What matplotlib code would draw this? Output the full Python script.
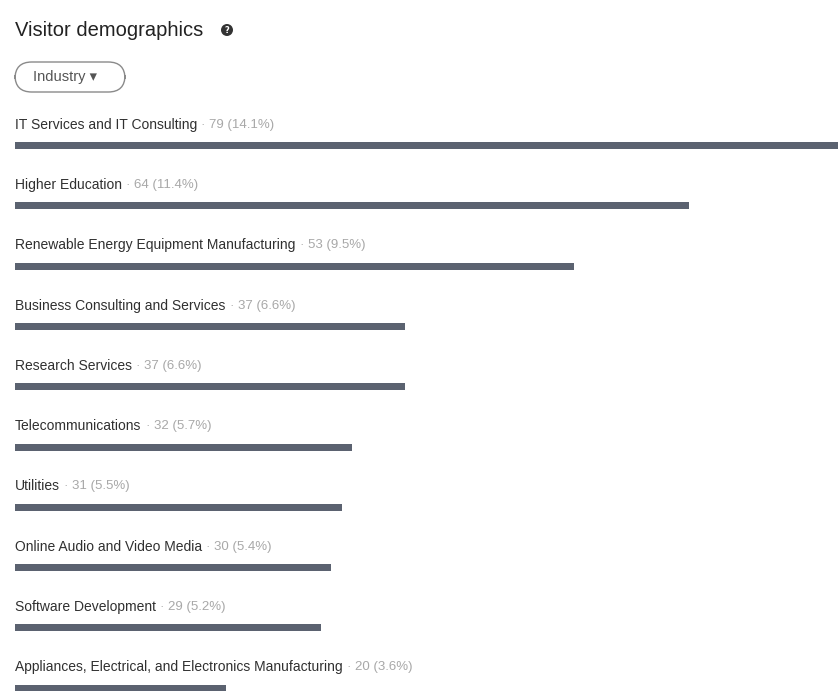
import matplotlib
matplotlib.use("Agg")
import matplotlib.pyplot as plt
from matplotlib.transforms import offset_copy
from matplotlib.patches import Ellipse, FancyBboxPatch

categories = [
    "IT Services and IT Consulting",
    "Higher Education",
    "Renewable Energy Equipment Manufacturing",
    "Business Consulting and Services",
    "Research Services",
    "Telecommunications",
    "Utilities",
    "Online Audio and Video Media",
    "Software Development",
    "Appliances, Electrical, and Electronics Manufacturing",
]
counts = [79, 64, 53, 37, 37, 32, 31, 30, 29, 20]
percents = ["14.1%", "11.4%", "9.5%", "6.6%", "6.6%", "5.7%", "5.5%", "5.4%", "5.2%", "3.6%"]

W, H = 838, 691
fig = plt.figure(figsize=(W / 100, H / 100), dpi=100)
fig.patch.set_facecolor("white")

FAM = ["Liberation Sans", "DejaVu Sans"]

def fx(px):
    return px / W

def fy(py):
    return 1 - py / H

# Header
fig.text(fx(15), fy(30), "Visitor demographics", fontsize=14.5, color="#222222",
         family=FAM, va="center", ha="left")
fig.patches.append(Ellipse((fx(227), fy(30)), 12 / W, 12 / H, transform=fig.transFigure,
                           facecolor="#333333", edgecolor="none"))
fig.text(fx(227), fy(30.5), "?", fontsize=6, color="white", va="center", ha="center",
         family="DejaVu Sans", weight="bold")

# Industry dropdown pill
fig.patches.append(FancyBboxPatch((fx(15), fy(92)), 110 / W, 30 / H,
                                  boxstyle="round,pad=0,rounding_size=0.02",
                                  mutation_aspect=W / H,
                                  transform=fig.transFigure, facecolor="white",
                                  edgecolor="#8a8a8a", linewidth=1.0))
fig.text(fx(33), fy(77), "Industry \u25BE", fontsize=10.5, color="#555555",
         family=FAM, va="center", ha="left")

# Bars axis: starts at 15px, ~10.54 px per visitor
row0, step = 145.5, 60.3
ax = fig.add_axes([fx(15), 0, (W - 15) / W, 1])
ax.set_xlim(0, 78.1)
ax.set_ylim((H - row0) / step, -row0 / step)
ax.axis("off")

ypos = list(range(len(categories)))
ax.barh(ypos, counts, height=7 / step, color="#5b6270", edgecolor="none")

fig.canvas.draw()
r = fig.canvas.get_renderer()
for i, (cat, c, p) in enumerate(zip(categories, counts, percents)):
    t = offset_copy(ax.transData, fig=fig, x=0, y=15, units="points")
    txt = ax.text(0, i, cat, transform=t, fontsize=10, color="#303030",
                  family=FAM, va="center", ha="left")
    bb = txt.get_window_extent(renderer=r)
    t2 = offset_copy(ax.transData, fig=fig, x=bb.width * 72 / fig.dpi + 3, y=15, units="points")
    ax.text(0, i, f"\u00B7 {c} ({p})", transform=t2, fontsize=9.5, color="#a8a8a8",
            family=FAM, va="center", ha="left")

fig.savefig("out.png", dpi=100, facecolor="white")
